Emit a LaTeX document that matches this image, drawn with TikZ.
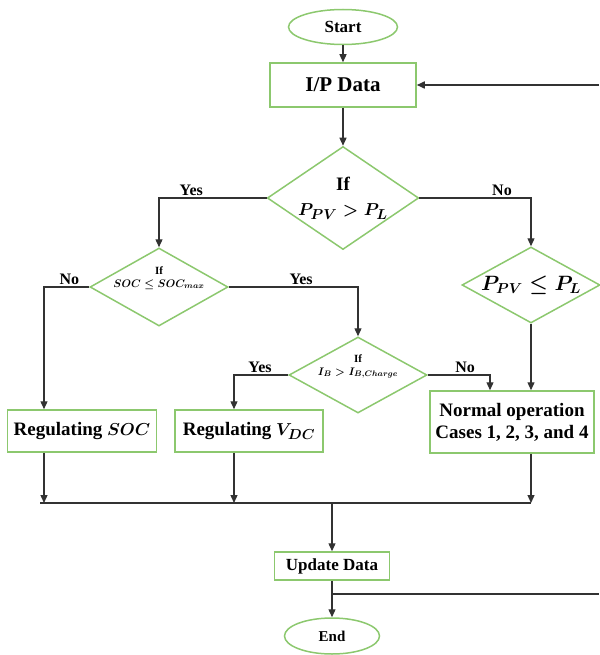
\documentclass[tikz,border=0pt]{standalone}
\usepackage{fontspec}
\usepackage{bm}
\setmainfont{Liberation Serif}
\usetikzlibrary{shapes.geometric,arrows.meta}
\definecolor{boxgreen}{RGB}{140,200,110}
\definecolor{linegray}{RGB}{50,50,50}

\begin{document}
\begin{tikzpicture}[x=1pt,y=-1pt,
  box/.style={draw=boxgreen,line width=1.5pt,rectangle,align=center,inner sep=1pt},
  decision/.style={draw=boxgreen,line width=1.5pt,diamond,aspect=1.8,inner sep=0pt,align=center},
  term/.style={draw=boxgreen,line width=1.5pt,ellipse,inner sep=0pt},
  line/.style={draw=linegray,line width=1.3pt},
  arr/.style={line,-{Triangle[length=8pt,width=7pt]}},
  lbl/.style={font=\fontsize{16}{18}\selectfont\bfseries,inner sep=1.5pt}]
\useasboundingbox (0,0) rectangle (599,655);

\node[term,minimum width=109pt,minimum height=35pt,font=\fontsize{17}{20}\selectfont\bfseries] (start) at (343,27) {Start};
\node[box,minimum width=146pt,minimum height=44pt,font=\fontsize{21}{24}\selectfont\bfseries] (ipdata) at (343,85) {I/P Data};
\node[decision,aspect=1.47,minimum width=150pt,minimum height=102pt,font=\fontsize{19}{25}\selectfont\bfseries\boldmath] (ifpl) at (343,198) {If\\$P_{PV} > P_L$};
\node[decision,minimum width=138pt,minimum height=78pt,font=\fontsize{11}{18}\selectfont\bfseries\boldmath] (ifsoc) at (159,287) {\smash{\shortstack{If\\[2pt]$SOC \le SOC_{max}$}}};
\node[decision,minimum width=138pt,minimum height=76pt,font=\fontsize{20}{22}\selectfont\bfseries\boldmath] (pless) at (531,285) {$P_{PV} \le P_L$};
\node[decision,minimum width=138pt,minimum height=76pt,font=\fontsize{11}{18}\selectfont\bfseries\boldmath] (ifib) at (358,375) {\smash{\shortstack{If\\[2pt]$I_B > I_{B,Charge}$}}};
\node[box,minimum width=149pt,minimum height=42pt,font=\fontsize{19}{22}\selectfont\bfseries\boldmath] (regsoc) at (82,431) {Regulating $SOC$};
\node[box,minimum width=148pt,minimum height=42pt,font=\fontsize{19}{22}\selectfont\bfseries\boldmath] (regvdc) at (249,431) {Regulating $V_{DC}$};
\node[box,minimum width=164pt,minimum height=62pt,font=\fontsize{19}{22}\selectfont\bfseries] (normal) at (512,422) {Normal operation\\Cases 1, 2, 3, and 4};
\node[box,minimum width=115pt,minimum height=28pt,font=\fontsize{17}{20}\selectfont\bfseries] (update) at (332,566) {Update Data};
\node[term,minimum width=95pt,minimum height=36pt,font=\fontsize{15}{18}\selectfont\bfseries] (stop) at (332,636) {End};

\coordinate (colsoc) at (44,503);
\coordinate (colvdc) at (234,503);
\coordinate (colnorm) at (531,503);
\coordinate (busmid) at (332,503);
\coordinate (loopout) at (599,594);
\coordinate (loopin) at (599,85);

\draw[arr] (start) -- (ipdata);
\draw[arr] (ipdata) -- (ifpl);
\draw[arr] (ifpl.west) -| node[lbl,above,pos=0.35] {Yes} (ifsoc.north);
\draw[arr] (ifpl.east) -| node[lbl,above,pos=0.37] {No} (pless.north);
\draw[arr] (ifsoc.west) -| node[lbl,above,pos=0.22] {No} (regsoc.north -| colsoc);
\draw[arr] (ifsoc.east) -| node[lbl,above,pos=0.28] {Yes} (ifib.north);
\draw[arr] (ifib.west) -| node[lbl,above,pos=0.26] {Yes} (regvdc.north -| colvdc);
\draw[arr] (ifib.east) -| node[lbl,above,pos=0.3] {No} ([xshift=-22pt]normal.north);
\draw[arr] (pless) -- (normal.north -| pless);

\foreach \n/\c in {regsoc/colsoc,regvdc/colvdc,normal/colnorm}
\draw[arr] (\n.south -| \c) -- (\c);

\draw[line,line width=2.5pt] ([xshift=-4pt]colsoc) -- (colnorm);
\draw[arr] (busmid) -- (update);
\draw[arr] (update) -- (stop);
\draw[line,line width=1.6pt] (update.south |- loopout) -- (loopout);
\draw[arr,line width=1.6pt] (loopin) -- (loopin -| ipdata.east);
\end{tikzpicture}
\end{document}
